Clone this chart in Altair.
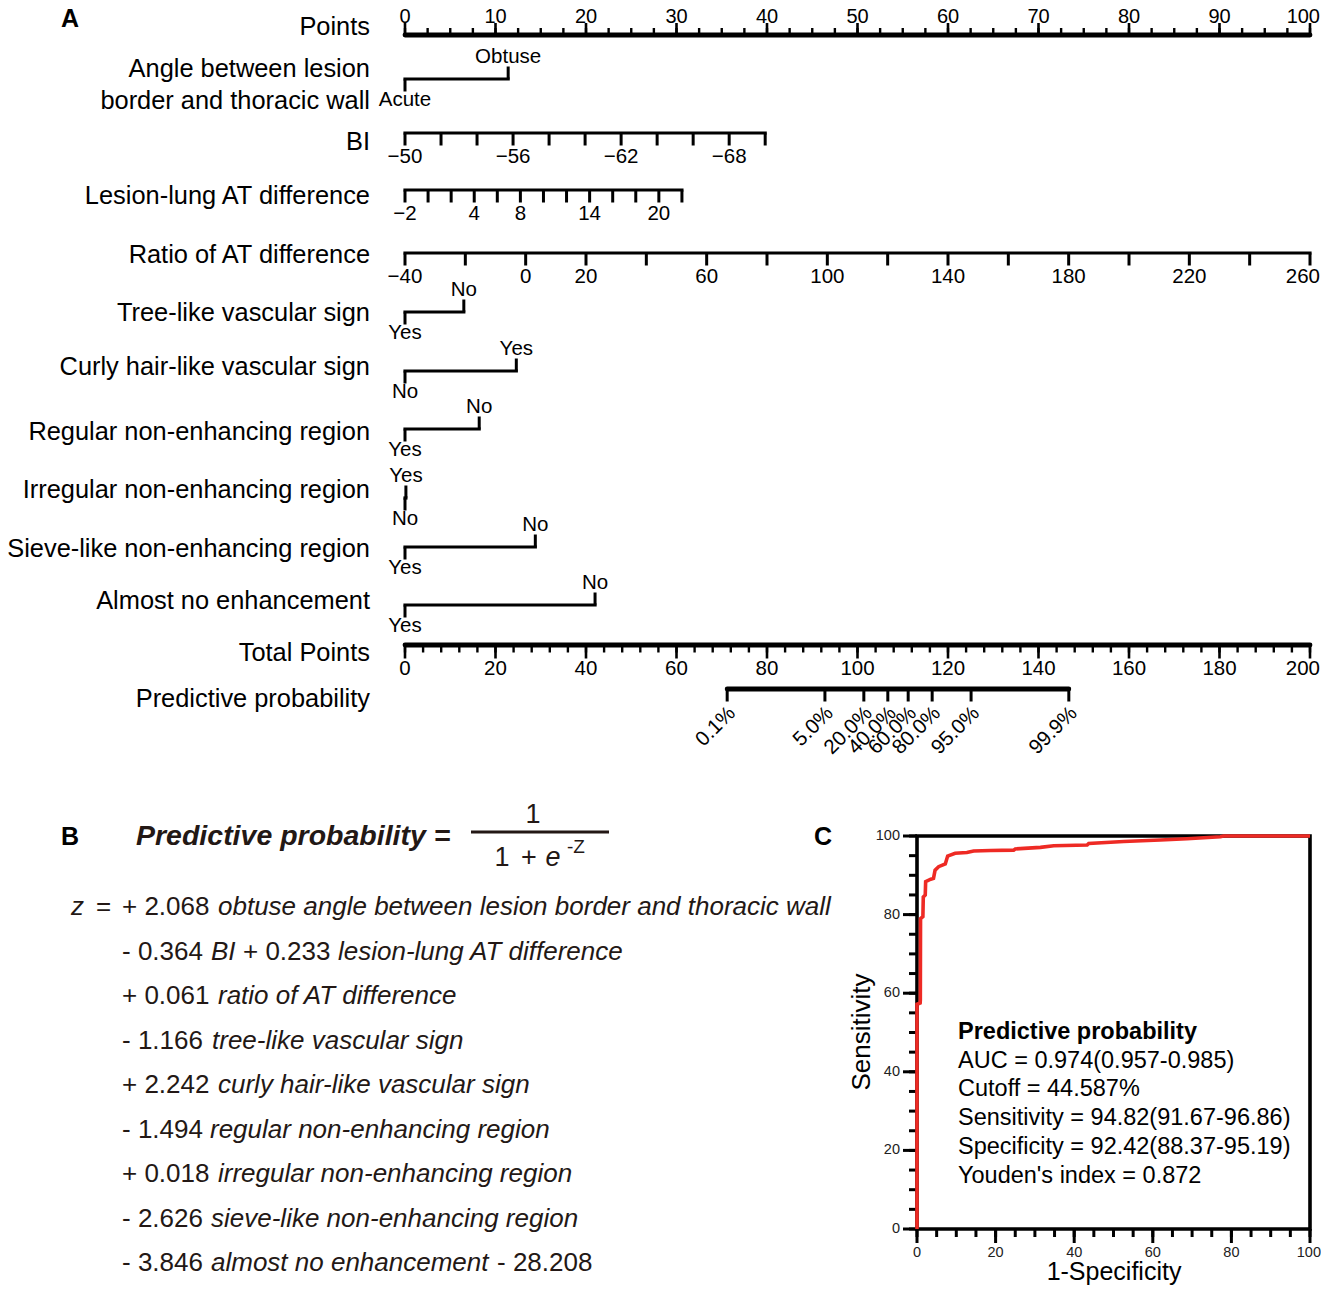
import altair as alt
import pandas as pd

FONT = "Liberation Sans"

# ======================= DATA =======================
# Points axis (0-100)
points_major = list(range(0, 101, 10))
points_minor = [i * 2.5 for i in range(41)]

# BI
bi_ticks = list(range(-50, -71, -2))
bi_labels = [-50, -56, -62, -68]
bi_value_span = [-50, -70]
bi_point_span = [0.0, 39.8]

# Lesion-lung AT difference
lesion_ticks = list(range(-2, 23, 2))
lesion_labels = [-2, 4, 8, 14, 20]
lesion_value_span = [-2, 22]
lesion_point_span = [0.0, 30.6]

# Ratio of AT difference
ratio_ticks = list(range(-40, 261, 20))
ratio_labels = [-40, 0, 20, 60, 100, 140, 180, 220, 260]
ratio_value_span = [-40, 260]
ratio_point_span = [0.0, 100.0]

# Binary predictors: level at 0 points, other level and its points
cat_names = ["angle", "tree", "curly", "regular", "irregular", "sieve", "almost"]
cat_zero_level = ["Acute", "Yes", "No", "Yes", "No", "Yes", "Yes"]
cat_other_level = ["Obtuse", "No", "Yes", "No", "Yes", "No", "No"]
cat_other_points = [11.4, 6.5, 12.3, 8.2, 0.1, 14.4, 21.0]

# Total points (0-200) and predictive probability
TOTAL_MAX = 200
total_major = list(range(0, 201, 20))
total_minor = list(range(0, 201, 4))
prob_labels = ["0.1%", "5.0%", "20.0%", "40.0%", "60.0%", "80.0%", "95.0%", "99.9%"]
prob_total_points = [71.2, 92.8, 101.4, 106.7, 111.2, 116.5, 125.1, 146.7]

# Row titles
row_titles = ["Points", "Angle between lesion", "border and thoracic wall", "BI",
              "Lesion-lung AT difference", "Ratio of AT difference",
              "Tree-like vascular sign", "Curly hair-like vascular sign",
              "Regular non-enhancing region", "Irregular non-enhancing region",
              "Sieve-like non-enhancing region", "Almost no enhancement",
              "Total Points", "Predictive probability"]

# ROC curve (1-specificity %, sensitivity %)
roc_fpr = [0, 0, 0.8, 0.85, 0.9, 1.5, 1.6, 2.1, 2.2, 3.5, 4.2, 4.6, 5.5, 7.2, 7.8,
           9.7, 12.7, 14.4, 18.7, 24.6, 25.0, 31.4, 34.8, 43.3, 43.7, 52.6, 61.9,
           68.7, 77.2, 78.0, 100]
roc_tpr = [0, 57.2, 57.5, 58.3, 79.0, 79.5, 84.5, 85.0, 88.4, 89.0, 89.2, 91.3,
           92.2, 92.9, 94.9, 95.6, 95.8, 96.2, 96.3, 96.4, 96.7, 97.1, 97.5, 97.7,
           98.1, 98.6, 99.0, 99.3, 99.8, 100, 100]
roc_major = list(range(0, 101, 20))
roc_minor = list(range(0, 101, 5))
roc_stats_title = "Predictive probability"
roc_stats = ["AUC = 0.974(0.957-0.985)", "Cutoff = 44.587%",
             "Sensitivity = 94.82(91.67-96.86)", "Specificity = 92.42(88.37-95.19)",
             "Youden's index = 0.872"]

# Formula (panel B): segments (text, italic)
formula_lines = [
    [("z", True), ("=", False), ("+ 2.068", False), ("obtuse angle between lesion border and thoracic wall", True)],
    [("- 0.364", False), ("BI", True), ("+ 0.233", False), ("lesion-lung AT difference", True)],
    [("+ 0.061", False), ("ratio of AT difference", True)],
    [("- 1.166", False), ("tree-like vascular sign", True)],
    [("+ 2.242", False), ("curly hair-like vascular sign", True)],
    [("- 1.494", False), ("regular non-enhancing region", True)],
    [("+ 0.018", False), ("irregular non-enhancing region", True)],
    [("- 2.626", False), ("sieve-like non-enhancing region", True)],
    [("- 3.846", False), ("almost no enhancement", True), ("- 28.208", False)],
]

# ======================= LAYOUT (page pixels) =======================
W, H = 1313, 1278
ROW_Y = {"points": 35, "angle": 79, "bi": 133, "lesion": 190, "ratio": 253,
         "tree": 312, "curly": 371, "regular": 429, "irregular": 498,
         "sieve": 547, "almost": 605, "total": 645, "prob": 689}
TITLE_X = 370
TITLE_Y = [27, 69, 101, 142, 196, 255, 313, 367, 432, 490, 549, 601, 653, 699]
FORMULA_Y = [907, 952, 996, 1041, 1085, 1130, 1174, 1219, 1263]
FORMULA_X = [[71, 96, 122, 218], [122, 211, 243, 338], [122, 218], [122, 212],
             [122, 218], [122, 210], [122, 218], [122, 211], [122, 211, 497]]
STATS_X = 958
STATS_Y = [1032, 1061, 1089, 1118, 1147, 1176]

xs_nomo = alt.Scale(domain=[0, 100], range=[397, 1302], nice=False, zero=False)
xs_pix = alt.Scale(domain=[8, 8 + W], range=[0, W], nice=False, zero=False)
ys_pix = alt.Scale(domain=[8, 8 + H], range=[0, H], nice=False, zero=False)
xs_roc = alt.Scale(domain=[0, 100], range=[909, 1302], nice=False, zero=False)
ys_roc = alt.Scale(domain=[0, 100], range=[1221, 828], nice=False, zero=False)


def fmt(v):
    return ("\u2212" + str(abs(v))) if v < 0 else str(v)


def to_points(v, vspan, pspan):
    return pspan[0] + (v - vspan[0]) / (vspan[1] - vspan[0]) * (pspan[1] - pspan[0])


def tot(tp):
    return tp * 100.0 / TOTAL_MAX


def nenc(base, text=False):
    enc = dict(x=alt.X("x:Q", scale=xs_nomo, axis=None),
               y=alt.Y("y:Q", scale=ys_pix, axis=None))
    if text:
        enc["text"] = alt.Text("t:N")
    return base.encode(**enc)


# ---------------- Nomogram: lines ----------------
thin_lines, thick_lines = [], []
thin_lines.append(dict(x=to_points(bi_value_span[0], bi_value_span, bi_point_span),
                       x2=to_points(bi_value_span[1], bi_value_span, bi_point_span), y=ROW_Y["bi"]))
thin_lines.append(dict(x=to_points(lesion_value_span[0], lesion_value_span, lesion_point_span),
                       x2=to_points(lesion_value_span[1], lesion_value_span, lesion_point_span), y=ROW_Y["lesion"]))
thin_lines.append(dict(x=to_points(ratio_value_span[0], ratio_value_span, ratio_point_span),
                       x2=to_points(ratio_value_span[1], ratio_value_span, ratio_point_span), y=ROW_Y["ratio"]))
for n, p in zip(cat_names, cat_other_points):
    thin_lines.append(dict(x=0.0, x2=p, y=ROW_Y[n]))
thick_lines.append(dict(x=0.0, x2=100.0, y=ROW_Y["points"]))
thick_lines.append(dict(x=tot(0), x2=tot(TOTAL_MAX), y=ROW_Y["total"]))
thick_lines.append(dict(x=tot(prob_total_points[0]), x2=tot(prob_total_points[-1]), y=ROW_Y["prob"]))

rule_enc = dict(x=alt.X("x:Q", scale=xs_nomo, axis=None), x2="x2:Q",
                y=alt.Y("y:Q", scale=ys_pix, axis=None))
l_thin = alt.Chart(pd.DataFrame(thin_lines)).mark_rule(
    color="black", strokeWidth=3.2, strokeCap="square").encode(**rule_enc)
l_thick = alt.Chart(pd.DataFrame(thick_lines)).mark_rule(
    color="black", strokeWidth=4.8, strokeCap="round").encode(**rule_enc)

# ---------------- Nomogram: ticks ----------------
down_ticks = []
down_ticks += [dict(x=to_points(v, bi_value_span, bi_point_span), y=ROW_Y["bi"]) for v in bi_ticks]
down_ticks += [dict(x=to_points(v, lesion_value_span, lesion_point_span), y=ROW_Y["lesion"]) for v in lesion_ticks]
down_ticks += [dict(x=to_points(v, ratio_value_span, ratio_point_span), y=ROW_Y["ratio"]) for v in ratio_ticks]
down_ticks += [dict(x=tot(v), y=ROW_Y["prob"]) for v in prob_total_points]
down_ticks += [dict(x=0.0, y=ROW_Y[n]) for n in cat_names]
up_ticks = [dict(x=p, y=ROW_Y[n]) for n, p in zip(cat_names, cat_other_points)]
pts_major_ticks = [dict(x=v, y=ROW_Y["points"]) for v in points_major]
pts_minor_ticks = [dict(x=v, y=ROW_Y["points"]) for v in points_minor]
tot_major_ticks = [dict(x=tot(v), y=ROW_Y["total"]) for v in total_major]
tot_minor_ticks = [dict(x=tot(v), y=ROW_Y["total"]) for v in total_minor]


def tick_layer(rows, size, yoff, thick):
    return nenc(alt.Chart(pd.DataFrame(rows)).mark_tick(
        orient="vertical", color="black", size=size, thickness=thick,
        yOffset=yoff, opacity=1))


t_down = tick_layer(down_ticks, 12, 6.5, 3)
t_up = tick_layer(up_ticks, 12, -6.5, 3)
t_pmaj = tick_layer(pts_major_ticks, 10, -7, 2.6)
t_pmin = tick_layer(pts_minor_ticks, 5, -4.5, 2.4)
t_tmaj = tick_layer(tot_major_ticks, 12, 7.5, 2.6)
t_tmin = tick_layer(tot_minor_ticks, 6, 4.5, 2.4)

# ---------------- Nomogram: labels ----------------
above = [dict(x=v, y=ROW_Y["points"], t=fmt(v)) for v in points_major[:-1]]
above_edge = [dict(x=points_major[-1], y=ROW_Y["points"], t=fmt(points_major[-1]))]
above_cat = [dict(x=p, y=ROW_Y[n], t=lv) for n, p, lv in zip(cat_names, cat_other_points, cat_other_level)]
below = []
below += [dict(x=to_points(v, bi_value_span, bi_point_span), y=ROW_Y["bi"], t=fmt(v)) for v in bi_labels]
below += [dict(x=to_points(v, lesion_value_span, lesion_point_span), y=ROW_Y["lesion"], t=fmt(v)) for v in lesion_labels]
below += [dict(x=to_points(v, ratio_value_span, ratio_point_span), y=ROW_Y["ratio"], t=fmt(v)) for v in ratio_labels[:-1]]
below += [dict(x=tot(v), y=ROW_Y["total"], t=fmt(v)) for v in total_major[:-1]]
below_edge = [dict(x=to_points(ratio_labels[-1], ratio_value_span, ratio_point_span), y=ROW_Y["ratio"], t=fmt(ratio_labels[-1])),
              dict(x=tot(total_major[-1]), y=ROW_Y["total"], t=fmt(total_major[-1]))]
below_cat = [dict(x=0.0, y=ROW_Y[n], t=lv) for n, lv in zip(cat_names, cat_zero_level)]
prob_rows = [dict(x=tot(v), y=ROW_Y["prob"], t=lab) for v, lab in zip(prob_total_points, prob_labels)]

txt_kw = dict(font=FONT, fontSize=20.5, color="black", align="center", baseline="middle")
edge_kw = dict(font=FONT, fontSize=20.5, color="black", align="right", baseline="middle", dx=10)
top_kw = dict(font=FONT, fontSize=20, color="black", baseline="middle")
lab_above = nenc(alt.Chart(pd.DataFrame(above)).mark_text(dy=-18, align="center", **top_kw), True)
lab_above_edge = nenc(alt.Chart(pd.DataFrame(above_edge)).mark_text(dy=-18, align="right", dx=10, **top_kw), True)
lab_above_cat = nenc(alt.Chart(pd.DataFrame(above_cat)).mark_text(dy=-22, **txt_kw), True)
lab_below = nenc(alt.Chart(pd.DataFrame(below)).mark_text(dy=23.5, **txt_kw), True)
lab_below_edge = nenc(alt.Chart(pd.DataFrame(below_edge)).mark_text(dy=23.5, **edge_kw), True)
lab_below_cat = nenc(alt.Chart(pd.DataFrame(below_cat)).mark_text(dy=21, **txt_kw), True)
lab_prob = nenc(alt.Chart(pd.DataFrame(prob_rows)).mark_text(
    font=FONT, fontSize=20.5, color="black", align="right", baseline="middle",
    angle=315, xOffset=5, yOffset=21), True)

nomogram = alt.layer(l_thin, l_thick, t_down, t_up, t_pmaj, t_pmin, t_tmaj, t_tmin,
                     lab_above, lab_above_edge, lab_above_cat, lab_below, lab_below_edge,
                     lab_below_cat, lab_prob)


# ---------------- Free text (page pixel coordinates) ----------------
def penc(base):
    return base.encode(x=alt.X("x:Q", scale=xs_pix, axis=None),
                       y=alt.Y("y:Q", scale=ys_pix, axis=None),
                       text=alt.Text("t:N"))


titles_df = pd.DataFrame(dict(x=[TITLE_X] * len(row_titles), y=TITLE_Y, t=row_titles))
p_titles = penc(alt.Chart(titles_df).mark_text(
    font=FONT, fontSize=25.4, align="right", baseline="middle", color="black"))

letters_df = pd.DataFrame(dict(x=[70, 70, 823], y=[19, 837, 837], t=["A", "B", "C"]))
p_letters = penc(alt.Chart(letters_df).mark_text(
    font=FONT, fontSize=25, fontWeight="bold", align="center", baseline="middle", color="black"))

hdr_df = pd.DataFrame(dict(x=[136], y=[836], t=["Predictive probability ="]))
p_hdr = penc(alt.Chart(hdr_df).mark_text(
    font=FONT, fontSize=28.5, fontWeight="bold", fontStyle="italic", align="left",
    baseline="middle", color="#231815"))

frac_num_df = pd.DataFrame(dict(x=[533, 502, 529], y=[815, 858, 858], t=["1", "1", "+"]))
p_frac = penc(alt.Chart(frac_num_df).mark_text(
    font=FONT, fontSize=27, align="center", baseline="middle", color="#231815"))
frac_e_df = pd.DataFrame(dict(x=[553], y=[858], t=["e"]))
p_frac_e = penc(alt.Chart(frac_e_df).mark_text(
    font=FONT, fontSize=27, fontStyle="italic", align="center", baseline="middle", color="#231815"))
frac_exp_df = pd.DataFrame(dict(x=[567], y=[847], t=["-Z"]))
p_frac_exp = penc(alt.Chart(frac_exp_df).mark_text(
    font=FONT, fontSize=19, align="left", baseline="middle", color="#231815"))
bar_df = pd.DataFrame(dict(x=[471], x2=[609], y=[832]))
p_bar = alt.Chart(bar_df).mark_rule(color="#231815", strokeWidth=3).encode(
    x=alt.X("x:Q", scale=xs_pix, axis=None), x2="x2:Q",
    y=alt.Y("y:Q", scale=ys_pix, axis=None))

f_norm, f_ital = [], []
for segs, xs, y in zip(formula_lines, FORMULA_X, FORMULA_Y):
    for (t, it), x in zip(segs, xs):
        (f_ital if it else f_norm).append(dict(x=x, y=y, t=t))
p_fnorm = penc(alt.Chart(pd.DataFrame(f_norm)).mark_text(
    font=FONT, fontSize=26, align="left", baseline="middle", color="#231815"))
p_fital = penc(alt.Chart(pd.DataFrame(f_ital)).mark_text(
    font=FONT, fontSize=26, fontStyle="italic", align="left", baseline="middle", color="#231815"))

stats_title_df = pd.DataFrame(dict(x=[STATS_X], y=[STATS_Y[0]], t=[roc_stats_title]))
p_stats_title = penc(alt.Chart(stats_title_df).mark_text(
    font=FONT, fontSize=23.5, fontWeight="bold", align="left", baseline="middle", color="black"))
stats_df = pd.DataFrame(dict(x=[STATS_X] * len(roc_stats), y=STATS_Y[1:], t=roc_stats))
p_stats = penc(alt.Chart(stats_df).mark_text(
    font=FONT, fontSize=23.5, align="left", baseline="middle", color="black"))

roc_xtitle_df = pd.DataFrame(dict(x=[1114], y=[1272], t=["1-Specificity"]))
p_xtitle = penc(alt.Chart(roc_xtitle_df).mark_text(
    font=FONT, fontSize=25, align="center", baseline="middle", color="black"))
roc_ytitle_df = pd.DataFrame(dict(x=[862], y=[1032], t=["Sensitivity"]))
p_ytitle = penc(alt.Chart(roc_ytitle_df).mark_text(
    font=FONT, fontSize=26, align="center", baseline="middle", angle=270, color="black"))

free_text = alt.layer(p_titles, p_letters, p_hdr, p_bar, p_frac, p_frac_e, p_frac_exp,
                      p_fnorm, p_fital, p_stats_title, p_stats, p_xtitle, p_ytitle)

# ---------------- ROC panel ----------------
renc = dict(x=alt.X("x:Q", scale=xs_roc, axis=None), y=alt.Y("y:Q", scale=ys_roc, axis=None))

yt_major = pd.DataFrame(dict(x=[0] * len(roc_major), y=roc_major))
yt_minor = pd.DataFrame(dict(x=[0] * len(roc_minor), y=roc_minor))
xt_major = pd.DataFrame(dict(x=roc_major, y=[0] * len(roc_major)))
xt_minor = pd.DataFrame(dict(x=roc_minor, y=[0] * len(roc_minor)))

r_ytmaj = alt.Chart(yt_major).mark_tick(orient="horizontal", color="black", size=14,
                                        thickness=3, xOffset=-7, opacity=1).encode(**renc)
r_ytmin = alt.Chart(yt_minor).mark_tick(orient="horizontal", color="black", size=8,
                                        thickness=3, xOffset=-4, opacity=1).encode(**renc)
r_xtmaj = alt.Chart(xt_major).mark_tick(orient="vertical", color="black", size=14,
                                        thickness=3, yOffset=7, opacity=1).encode(**renc)
r_xtmin = alt.Chart(xt_minor).mark_tick(orient="vertical", color="black", size=8,
                                        thickness=3, yOffset=4, opacity=1).encode(**renc)

ylab_df = pd.DataFrame(dict(x=[0] * len(roc_major), y=roc_major, t=[str(v) for v in roc_major]))
xlab_df = pd.DataFrame(dict(x=roc_major[:-1], y=[0] * (len(roc_major) - 1),
                            t=[str(v) for v in roc_major[:-1]]))
xlab_edge_df = pd.DataFrame(dict(x=[roc_major[-1]], y=[0], t=[str(roc_major[-1])]))
r_ylab = alt.Chart(ylab_df).mark_text(font=FONT, fontSize=14.5, color="#222", align="right",
                                      baseline="middle", dx=-17).encode(text="t:N", **renc)
r_xlab = alt.Chart(xlab_df).mark_text(font=FONT, fontSize=14.5, color="#222", align="center",
                                      baseline="middle", dy=24).encode(text="t:N", **renc)
r_xlab_edge = alt.Chart(xlab_edge_df).mark_text(font=FONT, fontSize=14.5, color="#222", align="right",
                                                baseline="middle", dx=11, dy=24).encode(text="t:N", **renc)

frame_df = pd.DataFrame(dict(x=[0], x2=[100], y=[0], y2=[100]))
r_frame = alt.Chart(frame_df).mark_rect(fillOpacity=0, stroke="black", strokeWidth=3.6).encode(
    x=alt.X("x:Q", scale=xs_roc, axis=None), x2="x2:Q",
    y=alt.Y("y:Q", scale=ys_roc, axis=None), y2="y2:Q")

curve_df = pd.DataFrame(dict(x=roc_fpr, y=roc_tpr, i=list(range(len(roc_fpr)))))
r_curve = alt.Chart(curve_df).mark_line(color="#ee2a24", strokeWidth=3.6, strokeJoin="miter").encode(
    order=alt.Order("i:Q"), **renc)

roc = alt.layer(r_ytmaj, r_ytmin, r_xtmaj, r_xtmin, r_ylab, r_xlab, r_xlab_edge, r_frame, r_curve)

chart = alt.layer(nomogram, free_text, roc).resolve_scale(
    x="independent", y="independent"
).properties(
    width=W, height=H, padding=0, autosize="none", background="white"
).configure_view(stroke=None)

chart.save("out.html", embed_options={"renderer": "svg", "actions": False})
